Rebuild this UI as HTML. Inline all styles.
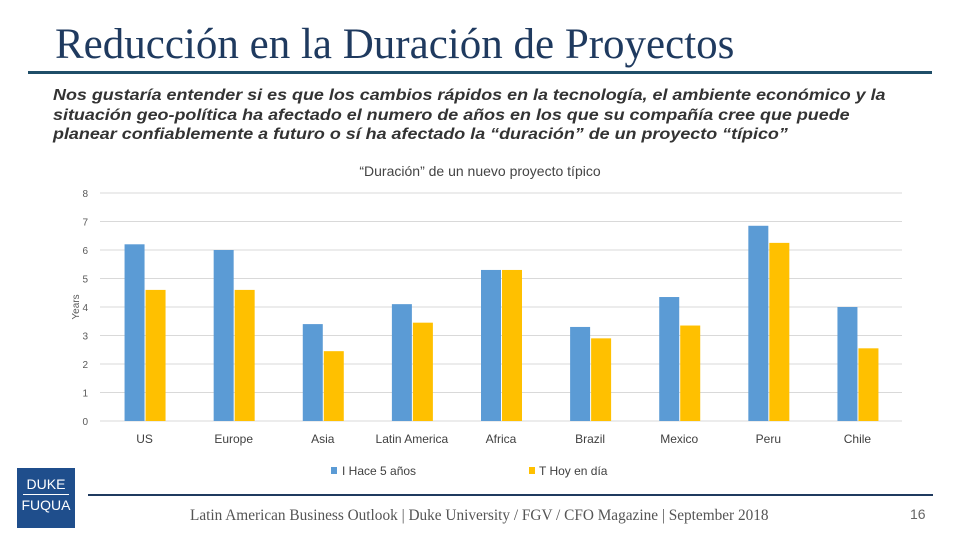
<!DOCTYPE html>
<html><head><meta charset="utf-8"><style>
body{margin:0;width:960px;height:540px;background:#fff;position:relative;overflow:hidden;font-family:"Liberation Sans",sans-serif}
.title{position:absolute;left:55px;top:20px;font-family:"Liberation Serif",serif;font-size:43px;line-height:50px;color:#1f3a5f;white-space:nowrap}
.rule{position:absolute;left:28px;top:71px;width:904px;height:3px;background:#1f4e68}
.sub{position:absolute;left:53px;top:86px;width:760px;font-size:16px;font-weight:bold;font-style:italic;color:#333;line-height:19.5px;transform:scaleX(1.12);transform-origin:0 0}
.foot{position:absolute;left:190px;top:507px;font-family:"Liberation Serif",serif;font-size:15.3px;color:#555;white-space:nowrap}
.pg{position:absolute;left:910px;top:506px;font-size:14px;color:#666}
.frule{position:absolute;left:88px;top:494px;width:845px;height:2px;background:#1f3a5f}
.logo{position:absolute;left:17px;top:468px;width:58px;height:60px;background:#1f4e8c;color:#fff;font-size:14px;text-align:center;line-height:16px}
</style></head><body>
<div class="title">Reducción en la Duración de Proyectos</div>
<div class="rule"></div>
<div class="sub">Nos gustaría entender si es que los cambios rápidos en la tecnología, el ambiente económico y la situación geo-política ha afectado el numero de años en los que su compañía cree que puede planear confiablemente a futuro o sí ha afectado la “duración” de un proyecto “típico”</div>
<svg id="chart" width="960" height="540" style="position:absolute;left:0;top:0" font-family="Liberation Sans, sans-serif"></svg>
<div class="logo"><div style="margin-top:8px">DUKE</div><div style="border-top:1px solid #fff;margin:2px 6px"></div><div>FUQUA</div></div>
<div class="frule"></div>
<div class="foot">Latin American Business Outlook | Duke University / FGV / CFO Magazine | September 2018</div>
<div class="pg">16</div>
<script>
const categories=["US","Europe","Asia","Latin America","Africa","Brazil","Mexico","Peru","Chile"];
const hace5=[6.2,6.0,3.4,4.1,5.3,3.3,4.35,6.85,4.0];
const hoy=[4.6,4.6,2.45,3.45,5.3,2.9,3.35,6.25,2.55];
const ticks=[0,1,2,3,4,5,6,7,8];
const svg=document.getElementById('chart');const NS='http://www.w3.org/2000/svg';
const x0=100,x1=902,yb=421,yt=193,ymax=8;
const y=v=>yb-(v/ymax)*(yb-yt);
const bw=(x1-x0)/categories.length;
function mk(t,a,txt){const e=document.createElementNS(NS,t);for(const k in a)e.setAttribute(k,a[k]);if(txt!=null)e.textContent=txt;svg.appendChild(e);return e;}
let e=mk('text',{x:480,y:176,'text-anchor':'middle','font-size':14,fill:'#444'},'“Duración” de un nuevo proyecto típico');

ticks.forEach(t=>{
 let g=mk('line',{x1:x0,x2:x1,y1:y(t),y2:y(t),stroke:'#d9d9d9'});
 
 let l=mk('text',{x:88,y:y(t)+4,'text-anchor':'end','font-size':10,fill:'#595959'},t);
 
});
e=mk('text',{x:79,y:307,'text-anchor':'middle','font-size':10,fill:'#595959',transform:'rotate(-90 79 307)'},'Years');

categories.forEach((c,i)=>{
 const cx=x0+bw*(i+0.5);
 let b=mk('rect',{x:cx-20,y:y(hace5[i]),width:20,height:yb-y(hace5[i]),fill:'#5b9bd5'});
 
 b=mk('rect',{x:cx+1,y:y(hoy[i]),width:20,height:yb-y(hoy[i]),fill:'#ffc000'});
 
 let l=mk('text',{x:cx,y:443,'text-anchor':'middle','font-size':12,fill:'#404040'},c);
 
});
e=mk('rect',{x:331,y:467,width:6,height:7,fill:'#5b9bd5'});
e=mk('text',{x:342,y:475,'font-size':12,fill:'#404040'},'I  Hace 5 años');
e=mk('rect',{x:529,y:467,width:6,height:7,fill:'#ffc000'});
e=mk('text',{x:539,y:475,'font-size':12,fill:'#404040'},'T  Hoy en día');
</script>
</body></html>
